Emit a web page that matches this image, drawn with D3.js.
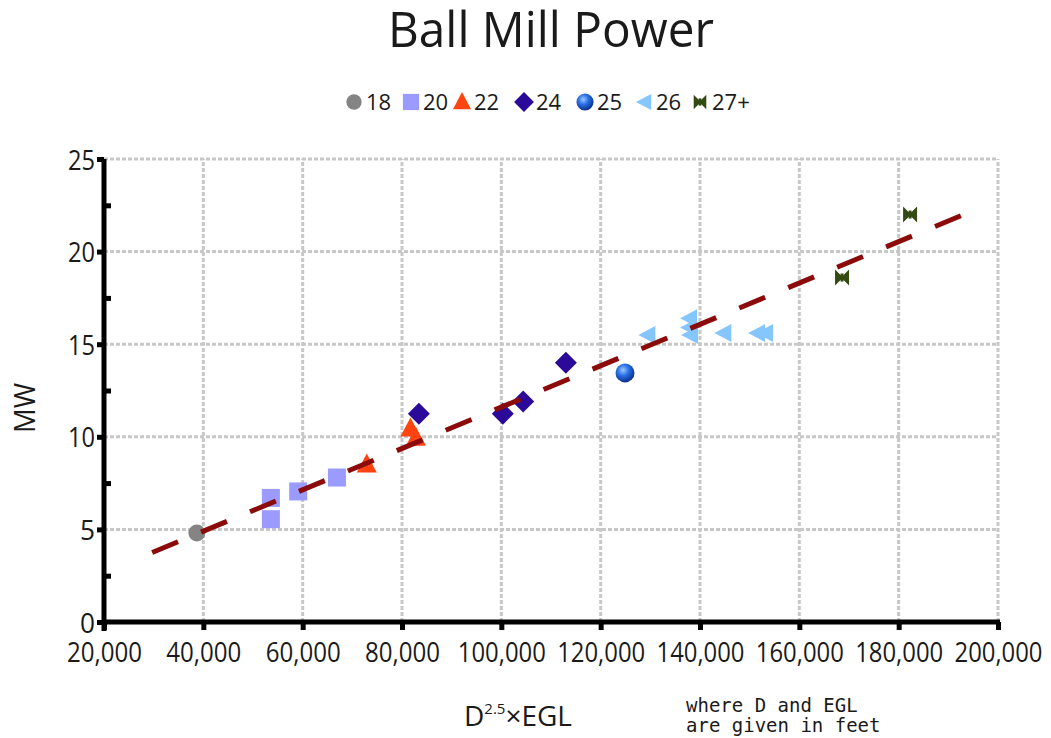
<!DOCTYPE html>
<html>
<head>
<meta charset="utf-8">
<script src="https://cdnjs.cloudflare.com/ajax/libs/d3/7.8.5/d3.min.js"></script>
<style>
  body { margin: 0; background: #fff; }
  svg { display: block; }
</style>
</head>
<body>
<script>
// mill groups (diameter, ft)
var groups = ["18", "20", "22", "24", "25", "26", "27+"];
var colors = ["#848484", "#9a9aff", "#ff4411", "#2b0a9a", "#1a62d8", "#86c6ff", "#334a12"];
var shapes = ["circle", "square", "triangle", "diamond", "sphere", "left", "bowtie"];

// points: [D^2.5 x EGL, MW]
var g18 = [[38700, 4.8]];
var g20 = [[53600, 6.7], [53600, 5.55], [59100, 7.05], [66900, 7.8]];
var g22 = [[72900, 8.5], [81700, 10.45], [82800, 9.95]];
var g24 = [[83400, 11.25], [100300, 11.25], [104400, 11.9], [113000, 14.0]];
var g25 = [[124900, 13.45]];
var g26 = [[129400, 15.5], [137800, 16.4], [137800, 15.9], [138000, 15.5], [144700, 15.6], [151500, 15.6], [153100, 15.6]];
var g27 = [[168600, 18.6], [182300, 22.0]];
var series = [g18, g20, g22, g24, g25, g26, g27];

// fitted trend line
var trend = [[29700, 3.75], [194000, 22.1]];

var xTicks = [20000, 40000, 60000, 80000, 100000, 120000, 140000, 160000, 180000, 200000];
var yTicks = [0, 5, 10, 15, 20, 25];
var yMinor = [2.5, 7.5, 12.5, 17.5, 22.5];

var width = 1051, height = 738;
var svg = d3.select("body").append("svg")
    .attr("width", width)
    .attr("height", height);

var defs = svg.append("defs");
var grad = defs.append("radialGradient")
    .attr("id", "ball")
    .attr("cx", "40%").attr("cy", "35%").attr("r", "65%");
grad.append("stop").attr("offset", "0%").attr("stop-color", "#9cc8ff");
grad.append("stop").attr("offset", "45%").attr("stop-color", "#2a72e8");
grad.append("stop").attr("offset", "100%").attr("stop-color", "#0a2f8a");

var x = d3.scaleLinear().domain([20000, 200000]).range([104, 998]);
var y = d3.scaleLinear().domain([0, 25]).range([622, 159]);

var font = "'Open Sans', 'Noto Sans', sans-serif";

// title
svg.append("text")
    .attr("x", 551).attr("y", 47)
    .attr("text-anchor", "middle")
    .attr("textLength", 326).attr("lengthAdjust", "spacingAndGlyphs")
    .style("font-family", font)
    .style("font-size", "49px")
    .attr("fill", "#1a1a1a")
    .text("Ball Mill Power");

// grid
var grid = svg.append("g")
    .attr("stroke", "#c8c8c8")
    .attr("stroke-width", 3)
    .attr("stroke-dasharray", "4,2");
grid.selectAll(".gx").data(xTicks.slice(1)).enter().append("line")
    .attr("x1", d => x(d)).attr("x2", d => x(d))
    .attr("y1", y(0)).attr("y2", y(25));
grid.selectAll(".gy").data(yTicks.slice(1)).enter().append("line")
    .attr("x1", x(20000)).attr("x2", x(200000))
    .attr("y1", d => y(d)).attr("y2", d => y(d));

// symbol drawing
function drawMark(sel, shape, color) {
    if (shape == "circle") {
        sel.append("circle").attr("r", 8.5).attr("fill", color);
    } else if (shape == "square") {
        sel.append("rect").attr("x", -9).attr("y", -9).attr("width", 18).attr("height", 18).attr("fill", color);
    } else if (shape == "triangle") {
        sel.append("path").attr("d", "M0,-11 L10,8 L-10,8 Z").attr("fill", color);
    } else if (shape == "diamond") {
        sel.append("path").attr("d", "M0,-11 L11,0 L0,11 L-11,0 Z").attr("fill", color);
    } else if (shape == "sphere") {
        sel.append("circle").attr("r", 9.5).attr("fill", "url(#ball)");
    } else if (shape == "left") {
        sel.append("path").attr("d", "M-9,0 L8,-9 L8,9 Z").attr("fill", color);
    } else if (shape == "bowtie") {
        sel.append("path").attr("d", "M-7,-8 L0,-1 L7,-8 L7,8 L0,1 L-7,8 Z").attr("fill", color);
        sel.append("rect").attr("x", -1.5).attr("y", -4).attr("width", 3).attr("height", 8).attr("fill", color);
    }
}

// points
series.forEach(function(pts, i) {
    var g = svg.append("g");
    pts.forEach(function(p) {
        var m = g.append("g").attr("transform", "translate(" + x(p[0]) + "," + y(p[1]) + ")");
        drawMark(m, shapes[i], colors[i]);
    });
});

// trend line
svg.append("path")
    .attr("d", d3.line().x(d => x(d[0])).y(d => y(d[1]))(trend))
    .attr("fill", "none")
    .attr("stroke", "#8b0a0a")
    .attr("stroke-width", 5)
    .attr("stroke-dasharray", "28,25");

// axes
var xAxis = svg.append("g")
    .attr("transform", "translate(0," + y(0) + ")")
    .call(d3.axisBottom(x).tickValues(xTicks).tickSize(8).tickFormat(d3.format(",")));
var yAxis = svg.append("g")
    .attr("transform", "translate(" + x(20000) + ",0)")
    .call(d3.axisLeft(y).tickValues(yTicks).tickSize(7).tickPadding(2));
var yMin = svg.append("g")
    .attr("transform", "translate(" + x(20000) + ",0)")
    .call(d3.axisRight(y).tickValues(yMinor).tickSize(7).tickFormat(""));
yMin.select(".domain").remove();

[xAxis, yAxis, yMin].forEach(function(a) {
    a.select(".domain").attr("stroke", "#000").attr("stroke-width", 5);
    a.selectAll(".tick line").attr("stroke", "#000").attr("stroke-width", 5);
    a.selectAll(".tick text")
        .style("font-family", font)
        .style("font-size", "28px")
        .attr("fill", "#1a1a1a");
});
xAxis.select(".domain").attr("d", "M" + (x(20000) - 2) + ",0H" + (x(200000) + 2));
yAxis.select(".domain").attr("d", "M0," + y(25) + "V" + (y(0) + 9));
xAxis.selectAll(".tick text").attr("y", 40).attr("dy", 0)
    .attr("textLength", 75).attr("lengthAdjust", "spacingAndGlyphs");
xAxis.selectAll(".tick text").filter(d => d >= 100000).attr("textLength", 88);
yAxis.selectAll(".tick text").attr("dy", "0.36em")
    .attr("textLength", d => d < 10 ? 15 : 27).attr("lengthAdjust", "spacingAndGlyphs");

// axis titles
svg.append("text")
    .attr("transform", "translate(35,408) rotate(-90)")
    .attr("text-anchor", "middle")
    .attr("textLength", 50).attr("lengthAdjust", "spacingAndGlyphs")
    .style("font-family", font)
    .style("font-size", "29px")
    .attr("fill", "#1a1a1a")
    .text("MW");

var xl = svg.append("text")
    .attr("x", 464).attr("y", 726)
    .style("font-family", font)
    .style("font-size", "28px")
    .attr("fill", "#1a1a1a");
xl.append("tspan").text("D");
xl.append("tspan").attr("dy", -12).style("font-size", "15px").text("2.5");
xl.append("tspan").attr("dy", 12).text("×EGL");

var note = svg.append("text")
    .style("font-family", "'DejaVu Sans Mono', monospace")
    .style("font-size", "19px")
    .attr("fill", "#1a1a1a");
note.append("tspan").attr("x", 686).attr("y", 712).text("where D and EGL");
note.append("tspan").attr("x", 686).attr("y", 732).text("are given in feet");

// legend
var legendX = [354, 411, 462, 524, 585, 644, 700];
var leg = svg.append("g").attr("transform", "translate(0,102)");
groups.forEach(function(name, i) {
    var m = leg.append("g").attr("transform", "translate(" + legendX[i] + ",0) scale(0.9)");
    drawMark(m, shapes[i], colors[i]);
    leg.append("text")
        .attr("x", legendX[i] + 12).attr("y", 8)
        .style("font-family", font)
        .style("font-size", "22px")
        .attr("fill", "#1a1a1a")
        .text(name);
});
</script>
</body>
</html>
